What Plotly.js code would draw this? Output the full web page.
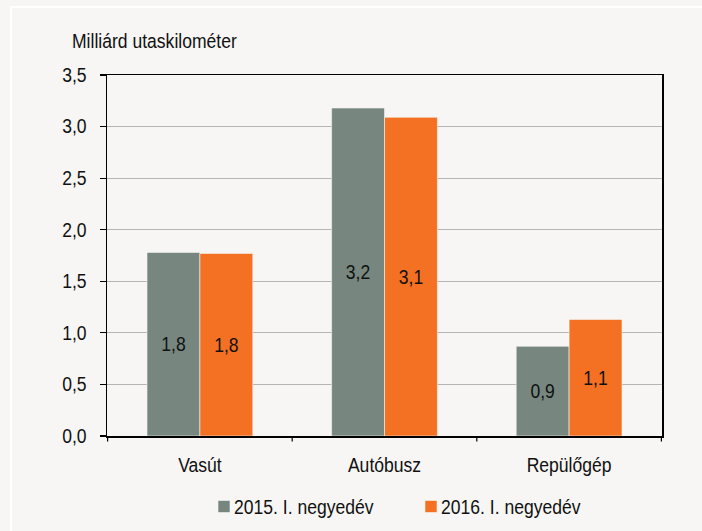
<!DOCTYPE html>
<html>
<head>
<meta charset="utf-8">
<script src="https://cdn.plot.ly/plotly-3.0.1.min.js"></script>
<style>html,body{margin:0;padding:0;background:#f7f6f4;}#chart{width:702px;height:531px;}</style>
</head>
<body>
<div id="chart"></div>
<script>
var categories = ['Vasút', 'Autóbusz', 'Repülőgép'];
var values2015 = [1.78, 3.18, 0.87];
var values2016 = [1.77, 3.09, 1.13];
var labels2015 = ['1,8', '3,2', '0,9'];
var labels2016 = ['1,8', '3,1', '1,1'];
var seriesNames = ['2015. I. negyedév', '2016. I. negyedév'];
var yTicks = [0, 0.5, 1, 1.5, 2, 2.5, 3, 3.5];
var yTickLabels = ['0,0', '0,5', '1,0', '1,5', '2,0', '2,5', '3,0', '3,5'];

var FONT = '"Liberation Sans", Arial, sans-serif';
var FS = 19.5;
var SQUEEZE = 0.9;

var traces = [
  {type: 'bar', name: seriesNames[0], x: categories, y: values2015, text: labels2015,
   textposition: 'inside', insidetextanchor: 'middle', hoverinfo: 'none',
   textfont: {family: FONT, size: FS, color: '#111'},
   marker: {color: '#77877f', line: {color: '#f7f6f4', width: 0.6}}},
  {type: 'bar', name: seriesNames[1], x: categories, y: values2016, text: labels2016,
   textposition: 'inside', insidetextanchor: 'middle', hoverinfo: 'none',
   textfont: {family: FONT, size: FS, color: '#111'},
   marker: {color: '#f47022', line: {color: '#f7f6f4', width: 0.6}}}
];

var layout = {
  width: 702, height: 531,
  margin: {l: 107, r: 40, t: 75, b: 89, pad: 0},
  paper_bgcolor: '#f7f6f4',
  plot_bgcolor: '#f7f6f4',
  font: {family: FONT, size: FS, color: '#111'},
  barmode: 'group',
  bargap: 0.427,
  bargroupgap: 0,
  showlegend: true,
  legend: {orientation: 'h', x: 0.5, xanchor: 'center', y: -0.175, yanchor: 'middle',
           font: {family: FONT, size: FS, color: '#111'}, itemwidth: 30, traceorder: 'normal',
           bgcolor: 'rgba(0,0,0,0)'},
  xaxis: {
    type: 'category', showline: true, linecolor: '#000', linewidth: 1.5, mirror: true,
    ticks: '', showgrid: false, zeroline: false, ticklabelstandoff: 11,
    tickfont: {family: FONT, size: FS, color: '#111'}
  },
  yaxis: {
    range: [0, 3.5], tickvals: yTicks, ticktext: yTickLabels,
    showline: true, linecolor: '#000', linewidth: 1.5, mirror: true,
    ticks: 'outside', ticklen: 6, tickcolor: '#000', tickwidth: 1.2,
    showgrid: true, gridcolor: '#b5b5b5', gridwidth: 1, zeroline: false,
    ticklabelstandoff: 9,
    tickfont: {family: FONT, size: FS, color: '#111'}
  },
  shapes: [],
  annotations: [
    {xref: 'paper', yref: 'paper', x: -0.067, y: 1.058, xanchor: 'left', yanchor: 'bottom',
     text: 'Milliárd utaskilométer', showarrow: false, font: {family: FONT, size: FS, color: '#111'}}
  ]
};

// category boundary ticks on the x axis
var boundaries = [-0.5, 0.5, 1.5, 2.5];
boundaries.forEach(function (b) {
  layout.shapes.push({type: 'line', xref: 'x', yref: 'paper', x0: b, x1: b, y0: 0, y1: -0.015,
                      line: {color: '#000', width: 1.2}});
});

var legendMarkerLeft = [218, 425];
var legendCenterY = 506.5;

Plotly.newPlot('chart', traces, layout, {displayModeBar: false, staticPlot: true}).then(function () {
  var root = document.getElementById('chart');
  var svgs = root.querySelectorAll('svg.main-svg');
  var svg = svgs[0];
  var ns = 'http://www.w3.org/2000/svg';
  var r = document.createElementNS(ns, 'rect');
  r.setAttribute('x', 11); r.setAttribute('y', 7);
  r.setAttribute('width', 720); r.setAttribute('height', 560);
  r.setAttribute('fill', 'none'); r.setAttribute('stroke', '#ffffff'); r.setAttribute('stroke-width', 2);
  svg.insertBefore(r, svg.firstChild.nextSibling);

  // legend: tighten marker-text gap and place items
  var items = root.querySelectorAll('.legend .traces');
  items.forEach(function (g, i) {
    var txt = g.querySelector('.legendtext');
    if (txt) txt.setAttribute('x', 30);
    var pt = g.querySelector('.legendpoints path');
    var rb = pt.getBoundingClientRect();
    var tr = g.getAttribute('transform') || '';
    var m = /translate\(\s*([-\d.e]+)[ ,]+([-\d.e]+)\s*\)/.exec(tr);
    var tx = m ? parseFloat(m[1]) : 0, ty = m ? parseFloat(m[2]) : 0;
    var dx = legendMarkerLeft[i] - rb.left;
    var dy = legendCenterY - (rb.top + rb.height / 2);
    g.setAttribute('transform', 'translate(' + (tx + dx) + ',' + (ty + dy) + ')');
  });

  // narrow the type horizontally, like the condensed face of the original
  svgs.forEach(function (s) {
    s.querySelectorAll('text').forEach(function (t) {
      var bb;
      try { bb = t.getBBox(); } catch (e) { return; }
      if (!bb || bb.width === 0) return;
      var anchor = t.getAttribute('text-anchor') || window.getComputedStyle(t).textAnchor || 'start';
      var inAnn = t.closest('.annotation');
      var px;
      if (inAnn || anchor === 'start') px = bb.x;
      else if (anchor === 'end') px = bb.x + bb.width;
      else px = bb.x + bb.width / 2;
      var old = t.getAttribute('transform') || '';
      t.setAttribute('transform', old + ' translate(' + px + ',0) scale(' + SQUEEZE + ',1) translate(' + (-px) + ',0)');
    });
  });
});
</script>
</body>
</html>
